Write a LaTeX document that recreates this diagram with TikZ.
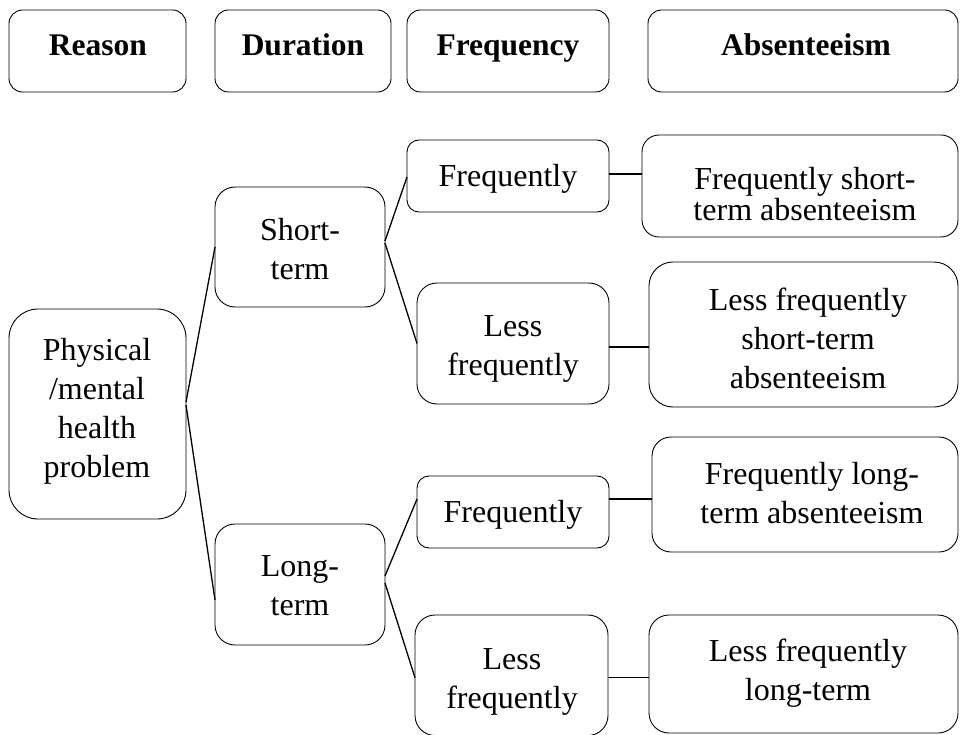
\documentclass[tikz,border=0pt]{standalone}
\usepackage{fontspec}
\setmainfont{Liberation Serif}
\tikzset{
  boxst/.style={draw=black, line width=0.9pt, fill=white, inner sep=0pt, outer sep=0pt},
  txt/.style={anchor=base, align=center, inner sep=0pt, font=\fontsize{32}{39}\selectfont},
  htxt/.style={txt, font=\fontsize{31.5}{39}\selectfont\bfseries},
  conn/.style={draw=black, line width=1.3pt}
}
\newcommand\mybox[6]{%
  \node[boxst, minimum width={(#4-#2)*1pt}, minimum height={(#5-#3)*1pt}, rounded corners=#6pt] (#1) at ({(#2+#4)/2},{(#3+#5)/2}) {};}
\begin{document}
\begin{tikzpicture}[x=1pt,y=-1pt]
\useasboundingbox[fill=white] (0,0) rectangle (960,735);
% headers
\mybox{hreason}{9}{10}{186}{92}{13.5}
\mybox{hdur}{215}{10}{391}{92}{13.5}
\mybox{hfreq}{407}{10}{609}{92}{13.5}
\mybox{habs}{648}{10}{958}{92}{13.5}
\node[htxt] (threason) at (98,56) {Reason};
\node[htxt] (thdur) at (303,56) {Duration};
\node[htxt] (thfreq) at (508,56) {Frequency};
\node[htxt] (thabs) at (806,56) {Absenteeism};
% boxes
\mybox{phys}{9}{309}{186}{519}{29}
\mybox{short}{215}{187}{385}{307}{20}
\mybox{long}{215}{524}{385}{645}{20}
\mybox{freqa}{407}{140}{609}{212}{12}
\mybox{lessa}{417}{283}{609}{404}{20}
\mybox{freqb}{417}{476}{609}{548}{12}
\mybox{lessb}{415}{615}{608}{735.5}{20}
\mybox{absa}{642}{135}{958}{237}{17}
\mybox{absb}{649}{262}{958}{407}{24}
\mybox{absc}{652}{437}{958}{552}{19}
\mybox{absd}{649}{615}{958}{733}{20}
% texts (anchor=base is the baseline of the last line)
\node[txt] (tphys) at (97,477) {Physical\\/mental\\health\\problem};
\node[txt] (tshort) at (300,279) {Short-\\term};
\node[txt] (tlong) at (300,615) {Long-\\term};
\node[txt] (tfreqa) at (508,187) {Frequently};
\node[txt] (tlessa) at (513,375) {Less\\frequently};
\node[txt] (tfreqb) at (513,522) {Frequently};
\node[txt] (tlessb) at (512,708) {Less\\frequently};
\node[txt, font=\fontsize{32}{31}\selectfont] (tabsa) at (805,221) {Frequently short-\\term absenteeism};
\node[txt] (tabsb) at (808,388) {Less frequently\\short-term\\absenteeism};
\node[txt] (tabsc) at (812,523) {Frequently long-\\term absenteeism};
\node[txt] (tabsd) at (808,700) {Less frequently\\long-term};
% connectors
\draw[conn] ([yshift=12pt]phys.east) -- ([yshift=0pt]short.west);
\draw[conn] ([yshift=9pt]phys.east) -- ([yshift=-15.5pt]long.west);
\draw[conn] ([yshift=6pt]short.east) -- ([yshift=-1pt]freqa.west);
\draw[conn] ([yshift=4pt]short.east) -- ([yshift=0pt]lessa.west);
\draw[conn] ([yshift=8.5pt]long.east) -- ([yshift=13pt]freqb.west);
\draw[conn] ([yshift=1.5pt]long.east) -- ([yshift=-2.5pt]lessb.west);
\draw[conn] ([yshift=2pt]freqa.east) -- ([yshift=2pt]freqa.east -| absa.west);
\draw[conn] ([yshift=-3.5pt]lessa.east) -- ([yshift=-3.5pt]lessa.east -| absb.west);
\draw[conn] ([yshift=13pt]freqb.east) -- ([yshift=13pt]freqb.east -| absc.west);
\draw[conn] ([yshift=-2.5pt]lessb.east) -- ([yshift=-2.5pt]lessb.east -| absd.west);
\end{tikzpicture}
\end{document}
